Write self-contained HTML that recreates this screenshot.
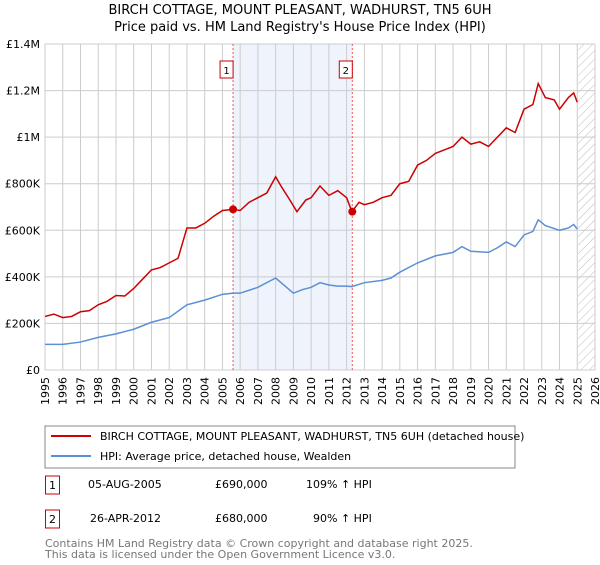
<!DOCTYPE html>
<html><head><meta charset="utf-8"><style>
body{margin:0;background:#fff;font-family:"Liberation Sans","DejaVu Sans",sans-serif;}
svg text{font-family:"DejaVu Sans","Liberation Sans",sans-serif;}
</style></head><body>
<svg width="600" height="560" xmlns="http://www.w3.org/2000/svg">
<text x="300" y="14" font-size="13" text-anchor="middle">BIRCH COTTAGE, MOUNT PLEASANT, WADHURST, TN5 6UH</text>
<text x="300" y="31" font-size="13" text-anchor="middle">Price paid vs. HM Land Registry's House Price Index (HPI)</text>
<g id="grid"></g><g id="marks"></g><g id="axes"></g>
<rect x="45" y="426" width="470" height="42" fill="none" stroke="#888"/>
<line x1="51" y1="436" x2="91" y2="436" stroke="#cc0000" stroke-width="2"/>
<text x="100" y="440" font-size="11">BIRCH COTTAGE, MOUNT PLEASANT, WADHURST, TN5 6UH (detached house)</text>
<line x1="51" y1="456" x2="91" y2="456" stroke="#5b8fd6" stroke-width="2"/>
<text x="100" y="460" font-size="11">HPI: Average price, detached house, Wealden</text>
<rect x="45.5" y="476" width="14" height="18" fill="none" stroke="#cc0000"/>
<text x="52.5" y="489" font-size="11" text-anchor="middle">1</text>
<text x="88" y="488" font-size="11">05-AUG-2005</text>
<text x="215" y="488" font-size="11">£690,000</text>
<text x="306" y="488" font-size="11">109% ↑ HPI</text>
<rect x="45.5" y="510" width="14" height="18" fill="none" stroke="#cc0000"/>
<text x="52.5" y="523" font-size="11" text-anchor="middle">2</text>
<text x="90" y="522" font-size="11">26-APR-2012</text>
<text x="215" y="522" font-size="11">£680,000</text>
<text x="313" y="522" font-size="11">90% ↑ HPI</text>
<text x="45" y="547" font-size="11" fill="#777">Contains HM Land Registry data © Crown copyright and database right 2025.</text>
<text x="45" y="558" font-size="11" fill="#777">This data is licensed under the Open Government Licence v3.0.</text>
</svg>
<script>
const redX=[1995,1995.5,1996,1996.5,1997,1997.5,1998,1998.5,1999,1999.5,2000,2000.5,2001,2001.5,2002,2002.5,2003,2003.5,2004,2004.5,2005,2005.6,2006,2006.5,2007,2007.5,2008,2008.3,2008.8,2009.2,2009.7,2010,2010.5,2011,2011.5,2012,2012.3,2012.7,2013,2013.5,2014,2014.5,2015,2015.5,2016,2016.5,2017,2017.5,2018,2018.5,2019,2019.5,2020,2020.5,2021,2021.5,2022,2022.5,2022.8,2023.2,2023.7,2024,2024.5,2024.8,2025];
const redY=[230,240,225,230,250,255,280,295,320,318,350,390,430,440,460,480,610,610,630,660,685,690,685,720,740,760,830,790,730,680,730,740,790,750,770,740,680,720,710,720,740,750,800,810,880,900,930,945,960,1000,970,980,960,1000,1040,1020,1120,1140,1230,1170,1160,1120,1170,1190,1150];
const blueX=[1995,1996,1997,1998,1999,2000,2001,2002,2003,2003.5,2004,2005,2005.6,2006,2007,2008,2009,2009.5,2010,2010.5,2011,2011.5,2012,2012.3,2013,2014,2014.5,2015,2016,2017,2018,2018.5,2019,2020,2020.5,2021,2021.5,2022,2022.5,2022.8,2023.2,2024,2024.5,2024.8,2025];
const blueY=[110,110,120,140,155,175,205,225,280,290,300,325,330,330,355,395,330,345,355,375,365,360,360,358,375,385,395,420,460,490,505,530,510,505,525,550,530,580,595,645,620,600,610,625,605];
const saleX=[2005.6,2012.32];
const saleY=[690,680];
const years=[1995,1996,1997,1998,1999,2000,2001,2002,2003,2004,2005,2006,2007,2008,2009,2010,2011,2012,2013,2014,2015,2016,2017,2018,2019,2020,2021,2022,2023,2024,2025,2026];
const yTicks=[0,200,400,600,800,1000,1200,1400];
const yLabels=["£0","£200K","£400K","£600K","£800K","£1M","£1.2M","£1.4M"];
const NS="http://www.w3.org/2000/svg";
const X0=45,X1=595,Y0=370,Y1=44;
const sx=v=>X0+(v-1995)/31*(X1-X0);
const sy=v=>Y0-v/1400*(Y0-Y1);
function mk(p,t,a){const e=document.createElementNS(NS,t);for(const k in a)e.setAttribute(k,a[k]);p.appendChild(e);return e;}
const grid=document.getElementById('grid'),marks=document.getElementById('marks'),axes=document.getElementById('axes');
let r=mk(grid,'rect',{x:sx(saleX[0]),y:Y1,width:sx(saleX[1])-sx(saleX[0]),height:Y0-Y1,fill:'#eef3fc'});


mk(grid,'defs',{}).innerHTML='<pattern id="h" width="6" height="6" patternUnits="userSpaceOnUse" patternTransform="rotate(45)"><line x1="0" y1="0" x2="0" y2="6" stroke="#bbb" stroke-width="1"/></pattern>';
let hz=mk(grid,'rect',{x:sx(2025.05),y:Y1,width:X1-sx(2025.05),height:Y0-Y1,fill:'url(#h)'});


years.forEach(y=>{const x=sx(y);
 const l=mk(grid,'line',{x1:x,x2:x,y1:Y1,y2:Y0,stroke:'#ccc'});
 
 
 const t=mk(axes,'text',{x:x+4,y:Y0+7,'font-size':11,'text-anchor':'end',transform:`rotate(-90 ${x+4} ${Y0+7})`});
 t.textContent=y;
 
 });
yTicks.forEach((v,i)=>{const y=sy(v);
 const l=mk(grid,'line',{x1:X0,x2:X1,y1:y,y2:y,stroke:'#ccc'});
 
 
 const t=mk(axes,'text',{x:X0-5,y:y+4,'font-size':11,'text-anchor':'end'});
 t.textContent=yLabels[i];
 
 });
saleX.forEach((v,i)=>{const x=sx(v);
 const l=mk(marks,'line',{x1:x,x2:x,y1:Y1,y2:Y0,stroke:'#e55','stroke-dasharray':'2,2'});
 
 
 const b=mk(marks,'rect',{x:x-13,y:61,width:13,height:17,fill:'#fff',stroke:'#cc0000'});
 
 
 const t=mk(marks,'text',{x:x-6.5,y:74,'font-size':10,'text-anchor':'middle'});t.textContent=i+1;});
function line(xs,ys,c,n){const p=mk(marks,'polyline',{points:xs.map((x,i)=>sx(x)+','+sy(ys[i])).join(' '),fill:'none',stroke:c,'stroke-width':1.5});
 
 }
line(blueX,blueY,'#5b8fd6','hpi-line');
line(redX,redY,'#cc0000','property-price-line');
saleX.forEach((v,i)=>{const c=mk(marks,'circle',{cx:sx(v),cy:sy(saleY[i]),r:4,fill:'#cc0000'});
 
 });
</script>
</body></html>
